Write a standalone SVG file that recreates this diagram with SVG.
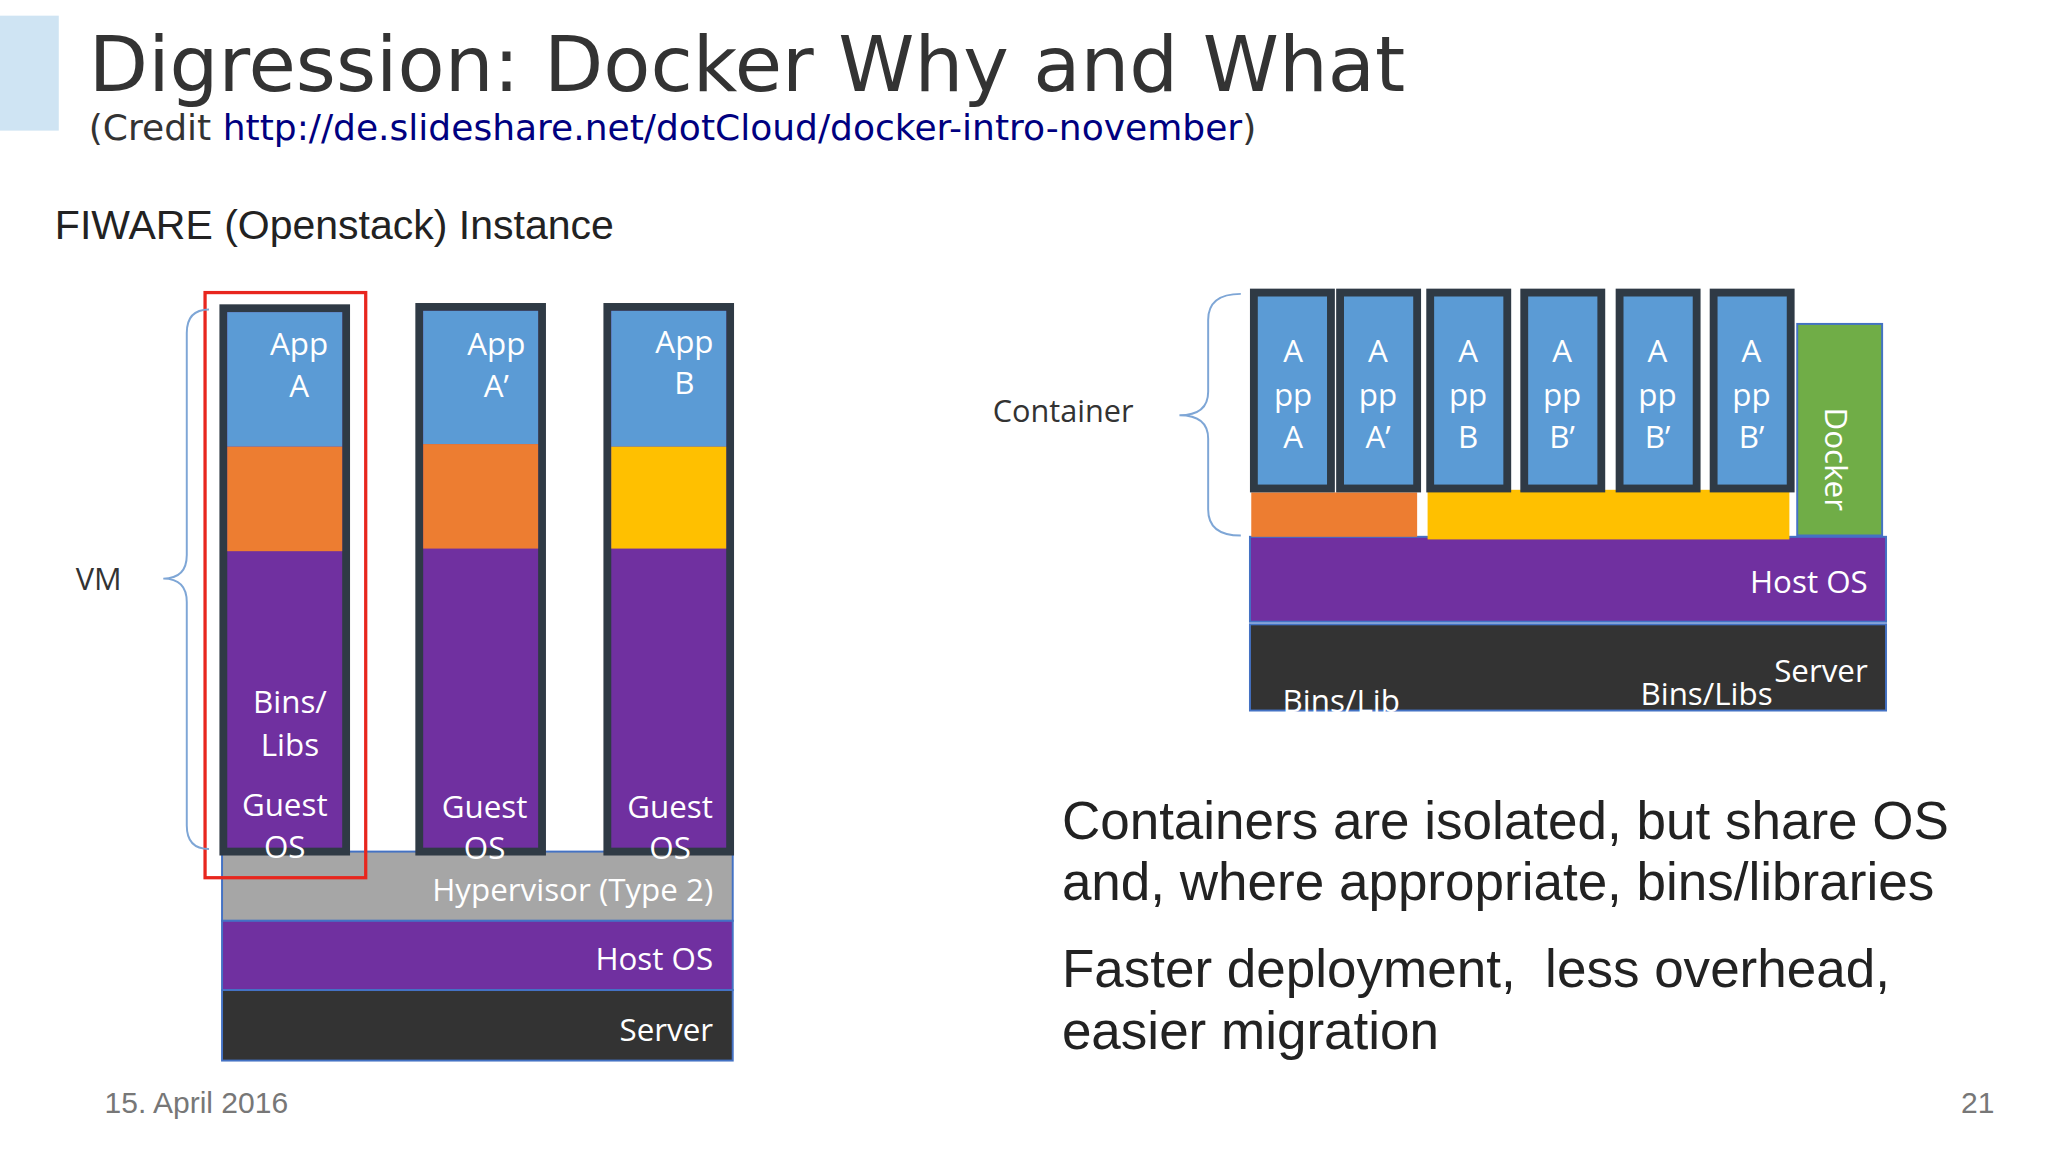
<svg xmlns="http://www.w3.org/2000/svg" width="2048" height="1150" viewBox="0 0 2048 1150">
<style>
.w{fill:#fff;font-family:"Open Sans","DejaVu Sans",sans-serif;font-size:24px}
.col{stroke:#2f3a45;stroke-width:6}
.bl{fill:#5b9bd5}.or{fill:#ed7d31}.pu{fill:#7030a0}.ye{fill:#ffc000}.dk{fill:#333}
.bar{stroke:#4472c4;stroke-width:1.5}
.br{fill:none;stroke:#7ea6d6;stroke-width:1.5}
.big{font-family:"Liberation Sans",Arial,sans-serif;font-size:40.6px;fill:#222;white-space:pre}
</style>
<rect width="2048" height="1150" fill="#fff"/>
<g transform="scale(1.30612)">
<rect x="0" y="12" width="45" height="88" fill="#cfe4f3"/>
<text x="68" y="70" font-family="DejaVu Sans,sans-serif" font-size="59" fill="#333">Digression: Docker Why and What</text>
<text x="68" y="107" font-family="DejaVu Sans,sans-serif" font-size="27.6" fill="#333">(Credit <tspan fill="#000080">http://de.slideshare.net/dotCloud/docker-intro-november</tspan>)</text>
<text x="42" y="183" font-family="Liberation Sans,Arial,sans-serif" font-size="31.4" fill="#222">FIWARE (Openstack) Instance</text>

<g id="hypervisor"><rect x="170" y="652" width="391" height="53" fill="#a6a6a6" class="bar"/><text class="w" x="546" y="690" text-anchor="end">Hypervisor (Type 2)</text></g>
<g id="hostos1"><rect x="170" y="705" width="391" height="53" class="pu bar"/><text class="w" x="546" y="743" text-anchor="end">Host OS</text></g>
<g id="server1"><rect x="170" y="758" width="391" height="54" class="dk bar"/><text class="w" x="546" y="797" text-anchor="end">Server</text></g>

<g id="vm1">
<rect x="171" y="236" width="94" height="416" class="col pu"/>
<rect x="174" y="239" width="88" height="103" class="bl"/><rect x="174" y="342" width="88" height="80" class="or"/>
<text class="w" x="229" y="272" text-anchor="middle">App</text><text class="w" x="229" y="304" text-anchor="middle">A</text>
<text class="w" x="222" y="546" text-anchor="middle">Bins/</text><text class="w" x="222" y="579" text-anchor="middle">Libs</text>
<text class="w" x="218" y="625" text-anchor="middle">Guest</text><text class="w" x="218" y="657" text-anchor="middle">OS</text>
</g>
<g id="vm2">
<rect x="321" y="235" width="94" height="417" class="col pu"/>
<rect x="324" y="238" width="88" height="102" class="bl"/><rect x="324" y="340" width="88" height="80" class="or"/>
<text class="w" x="380" y="272" text-anchor="middle">App</text><text class="w" x="380" y="304" text-anchor="middle">A’</text>
<text class="w" x="371" y="626" text-anchor="middle">Guest</text><text class="w" x="371" y="658" text-anchor="middle">OS</text>
</g>
<g id="vm3">
<rect x="465" y="235" width="94" height="417" class="col pu"/>
<rect x="468" y="238" width="88" height="104" class="bl"/><rect x="468" y="342" width="88" height="78" class="ye"/>
<text class="w" x="524" y="270" text-anchor="middle">App</text><text class="w" x="524" y="302" text-anchor="middle">B</text>
<text class="w" x="513" y="626" text-anchor="middle">Guest</text><text class="w" x="513" y="658" text-anchor="middle">OS</text>
</g>
<rect x="157" y="224" width="123" height="448" fill="none" stroke="#e8261e" stroke-width="2.5"/>

<g id="connectors">
<path class="br" d="M160 237 Q143 237 143 255 L143 425 Q143 443 125 443 Q143 443 143 461 L143 632 Q143 650 160 650"/>
<path class="br" d="M950 225 Q925 225 925 245 L925 300 Q925 318 903 318 Q925 318 925 336 L925 390 Q925 410 950 410"/>
</g>
<text x="58" y="452" font-family="Open Sans,sans-serif" font-size="23.5" fill="#333">VM</text>
<text x="760" y="323" font-family="Open Sans,sans-serif" font-size="23.5" fill="#333">Container</text>

<g id="containers">
<rect x="957" y="411" width="487" height="65" class="pu bar"/><text class="w" x="1430" y="454" text-anchor="end">Host OS</text>
<rect x="957" y="478" width="487" height="66" class="dk bar"/><text class="w" x="1430" y="522" text-anchor="end">Server</text>
<text class="w" x="982" y="545">Bins/Lib</text><text class="w" x="1256" y="540">Bins/Libs</text>
<rect x="958" y="377" width="127" height="34" class="or"/><rect x="1093" y="375" width="277" height="38" class="ye"/>
<rect x="1376" y="248" width="65" height="162" fill="#70ad47" stroke="#4472c4" stroke-width="1.5"/>
<text class="w" transform="translate(1397,312) rotate(90)">Docker</text>
<g class="col bl">
<rect x="960" y="224" width="59" height="150"/><rect x="1026" y="224" width="59" height="150"/><rect x="1095" y="224" width="59" height="150"/>
<rect x="1167" y="224" width="59" height="150"/><rect x="1240" y="224" width="59" height="150"/><rect x="1312" y="224" width="59" height="150"/>
</g>
<g class="w" text-anchor="middle">
<text x="990" y="277">A</text><text x="990" y="311">pp</text><text x="990" y="343">A</text>
<text x="1055" y="277">A</text><text x="1055" y="311">pp</text><text x="1055" y="343">A’</text>
<text x="1124" y="277">A</text><text x="1124" y="311">pp</text><text x="1124" y="343">B</text>
<text x="1196" y="277">A</text><text x="1196" y="311">pp</text><text x="1196" y="343">B’</text>
<text x="1269" y="277">A</text><text x="1269" y="311">pp</text><text x="1269" y="343">B’</text>
<text x="1341" y="277">A</text><text x="1341" y="311">pp</text><text x="1341" y="343">B’</text>
</g>
</g>

<text class="big" x="813" y="642">Containers are isolated, but share OS</text>
<text class="big" x="813" y="689">and, where appropriate, bins/libraries</text>
<text class="big" x="813" y="756" xml:space="preserve">Faster deployment,  less overhead,</text>
<text class="big" x="813" y="803">easier migration</text>
<text x="80" y="852" font-family="Liberation Sans,Arial,sans-serif" font-size="23" fill="#777">15. April 2016</text>
<text x="1527" y="852" text-anchor="end" font-family="Liberation Sans,Arial,sans-serif" font-size="23" fill="#777">21</text>
</g>
</svg>
